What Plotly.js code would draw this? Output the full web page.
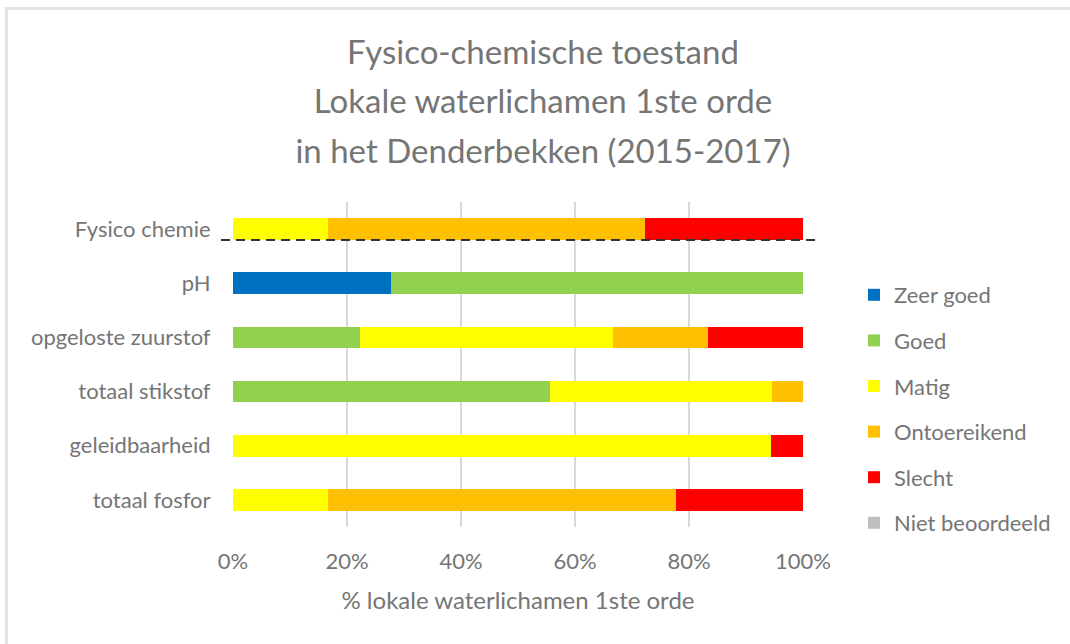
<!DOCTYPE html>
<html>
<head>
<meta charset="utf-8">
<script src="https://cdn.plot.ly/plotly-3.0.1.min.js"></script>
<style>
  html, body { margin: 0; padding: 0; background: #fff; }
  #wrap { position: relative; width: 1070px; height: 644px; overflow: hidden; }
  #frame { position: absolute; left: 5px; top: 7px; width: 1100px; height: 700px; border: 3px solid #e4e4e4; box-sizing: border-box; pointer-events: none; }
  #chart { width: 1070px; height: 644px; }
</style>
</head>
<body>
<div id="wrap">
  <div id="chart"></div>
  <div id="frame"></div>
</div>
<script>
const categories = ['Fysico chemie', 'pH', 'opgeloste zuurstof', 'totaal stikstof', 'geleidbaarheid', 'totaal fosfor'];
const seriesNames = ['Zeer goed', 'Goed', 'Matig', 'Ontoereikend', 'Slecht', 'Niet beoordeeld'];
const zeerGoed       = [0, 27.8, 0, 0, 0, 0];
const goed           = [0, 72.2, 22.2, 55.6, 0, 0];
const matig          = [16.7, 0, 44.4, 38.9, 94.4, 16.7];
const ontoereikend   = [55.5, 0, 16.7, 5.5, 0, 61.1];
const slecht         = [27.8, 0, 16.7, 0, 5.6, 22.2];
const nietBeoordeeld = [0, 0, 0, 0, 0, 0];
const tickValues = [0, 20, 40, 60, 80, 100];
const tickLabels = ['0%', '20%', '40%', '60%', '80%', '100%'];

const seriesValues = [zeerGoed, goed, matig, ontoereikend, slecht, nietBeoordeeld];
const colors = ['#0070C0', '#92D050', '#FFFF00', '#FFC000', '#FF0000', '#BFBFBF'];

const FONT = 'Lato, "Open Sans", sans-serif';
const GREY = '#757575';

const traces = seriesNames.map((name, i) => ({
  type: 'bar',
  orientation: 'h',
  name: name,
  y: categories,
  x: seriesValues[i],
  marker: { color: colors[i], line: { width: 0 } },
  legendgroup: name,
  hoverinfo: 'skip'
}));

const layout = {
  width: 1070,
  height: 644,
  paper_bgcolor: 'rgba(0,0,0,0)',
  plot_bgcolor: 'rgba(0,0,0,0)',
  font: { family: FONT, color: GREY, size: 22 },
  barmode: 'stack',
  bargap: 0.6,
  margin: { l: 233, r: 267, t: 202, b: 117 },
  title: {
    text: '<span style="font-size:33px">Fysico-chemische toestand</span><br><span style="font-size:33px">Lokale waterlichamen 1ste orde</span><br><span style="font-size:33px">in het Denderbekken (2015-2017)</span>',
    font: { family: FONT, color: GREY, size: 38 },
    x: 543 / 1070,
    xanchor: 'center',
    xref: 'container',
    y: 1 - 64 / 644,
    yref: 'container',
    yanchor: 'middle'
  },
  xaxis: {
    range: [0, 100],
    tickvals: tickValues,
    ticktext: tickLabels,
    tickfont: { family: FONT, color: GREY, size: 22 },
    showgrid: true,
    gridcolor: '#d9d9d9',
    gridwidth: 1.5,
    zeroline: false,
    showline: false,
    ticks: 'outside',
    ticklen: 15,
    tickcolor: 'rgba(0,0,0,0)',
    title: { text: '% lokale waterlichamen 1ste orde', font: { family: FONT, color: GREY, size: 24 }, standoff: 18 },
    fixedrange: true
  },
  yaxis: {
    type: 'category',
    autorange: 'reversed',
    tickfont: { family: FONT, color: GREY, size: 22 },
    showgrid: false,
    zeroline: false,
    showline: false,
    ticks: 'outside',
    ticklen: 17,
    tickcolor: 'rgba(0,0,0,0)',
    fixedrange: true
  },
  legend: {
    x: (854 - 233) / 570,
    xanchor: 'left',
    y: (527 - 274) / 325,
    yanchor: 'top',
    traceorder: 'grouped',
    tracegroupgap: 14,
    font: { family: FONT, color: GREY, size: 22 },
    bgcolor: 'rgba(0,0,0,0)',
    itemwidth: 30
  },
  shapes: [{
    type: 'line',
    xref: 'paper',
    yref: 'y',
    x0: -0.021,
    x1: 1.027,
    y0: 0.2,
    y1: 0.2,
    line: { color: '#333333', width: 2, dash: '9px,6px' }
  }],
  hovermode: false
};

Plotly.newPlot('chart', traces, layout, { displayModeBar: false, staticPlot: true });
</script>
</body>
</html>
